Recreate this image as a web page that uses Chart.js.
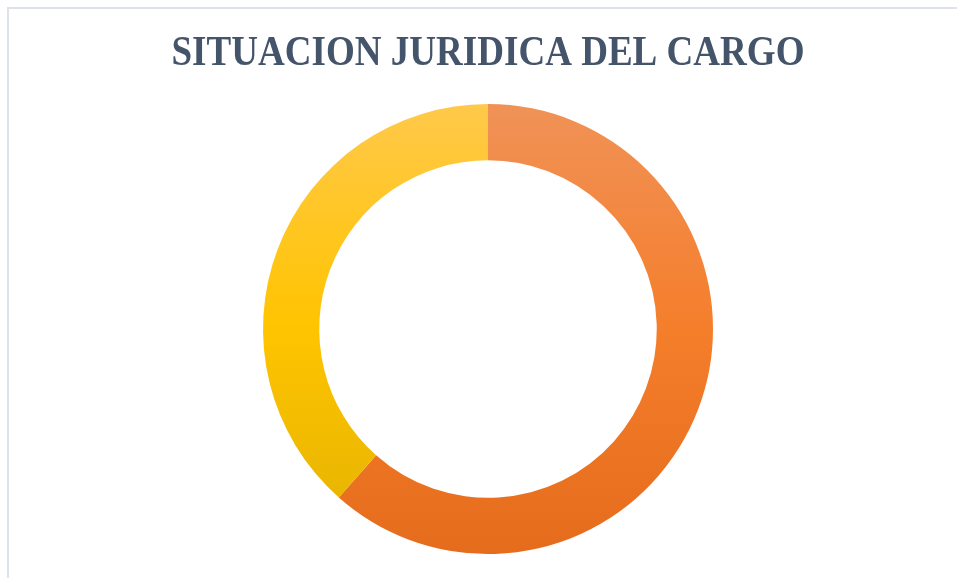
<!DOCTYPE html>
<html>
<head>
<meta charset="utf-8">
<script src="https://cdn.jsdelivr.net/npm/chart.js@4"></script>
<style>
  html, body { margin: 0; padding: 0; background: #fff; overflow: hidden; }
  #frame { position: absolute; left: 7px; top: 7px; width: 980px; height: 620px; border: 2px solid #DEE3EA; }
  #wrap { position: absolute; left: 0; top: 0; width: 957px; height: 578px; }
</style>
</head>
<body>
<div id="frame"></div>
<div id="wrap"><canvas id="cargoChart"></canvas></div>
<script>
// categories and values (approx 61.5% / 38.5%)
const categories = ["Nombrado", "Contratado"];
const counts = [16, 10];
const chartTitle = 'SITUACION JURIDICA DEL CARGO';

// gradient stops per slice: top, middle, bottom
const orangeStops = ["#F09257", "#F57E2B", "#E46C1C"];
const yellowStops = ["#FFC94A", "#FFC400", "#E2B200"];

function vGradient(context, stops) {
    const chart = context.chart;
    const area = chart.chartArea;
    if (!area) return stops[1];
    const g = chart.ctx.createLinearGradient(0, area.top, 0, area.bottom);
    g.addColorStop(0, stops[0]);
    g.addColorStop(0.5, stops[1]);
    g.addColorStop(1, stops[2]);
    return g;
}

// title is a bit condensed in the original, so draw it squeezed horizontally
const narrowTitle = {
    id: 'narrowTitle',
    afterDraw(chart) {
        const ctx = chart.ctx;
        ctx.save();
        ctx.font = "bold 42px 'Liberation Serif', 'Times New Roman', serif";
        ctx.fillStyle = '#44546A';
        ctx.textAlign = 'center';
        ctx.textBaseline = 'alphabetic';
        const cx = (chart.chartArea.left + chart.chartArea.right) / 2;
        const w = ctx.measureText(chartTitle).width;
        const sx = Math.min(1, 633 / w);
        ctx.translate(cx, 65);
        ctx.scale(sx, 1);
        ctx.fillText(chartTitle, 0, 0);
        ctx.restore();
    }
};

const cargoChart = new Chart(document.getElementById('cargoChart'), {
    type: 'doughnut',
    data: {
        labels: categories,
        datasets: [{
            data: counts,
            backgroundColor: function(context) {
                return vGradient(context, context.dataIndex === 0 ? orangeStops : yellowStops);
            },
            borderWidth: 0
        }]
    },
    options: {
        responsive: true,
        maintainAspectRatio: false,
        animation: false,
        cutout: '75%',
        layout: {
            padding: { left: 19, right: 0, top: 104, bottom: 24 }
        },
        plugins: {
            legend: { display: false },
            tooltip: { enabled: false },
            title: { display: false }
        }
    },
    plugins: [narrowTitle]
});
</script>
</body>
</html>
